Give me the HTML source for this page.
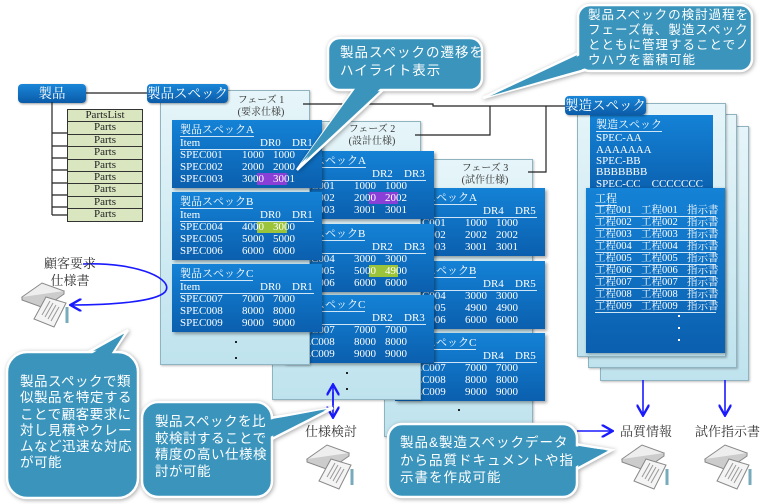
<!DOCTYPE html>
<html><head><meta charset="utf-8">
<style>
*{margin:0;padding:0;box-sizing:border-box}
body{width:768px;height:504px;background:#fff;position:relative;overflow:hidden;font-family:"Liberation Serif","Noto Serif CJK SC",serif;}
.a{position:absolute}
.panel{position:absolute;background:linear-gradient(#e6f5f9,#bfe3ee);border:1px solid #8fb3bf;box-shadow:1px 1px 2px rgba(0,0,0,.25)}
.card{position:absolute;width:150px;height:68px;background:linear-gradient(#1482d6,#0b5fae);box-shadow:2px 2px 3px rgba(0,0,0,.35);color:#fff;font-size:11px;line-height:12px;overflow:hidden}
.card div{position:absolute;white-space:nowrap}
.lbl{position:absolute;background:linear-gradient(#1a86d8,#0b5ba8);color:#fff;font-size:13.5px;border-radius:4px;text-align:center;line-height:19px;box-shadow:1px 1px 2px rgba(0,0,0,.4);white-space:nowrap;overflow:hidden}
.ph{position:absolute;font-size:10px;line-height:12px;text-align:center;color:#333}
.ct{position:absolute;color:#fff;font-size:13.5px;letter-spacing:1px;font-family:"Liberation Sans","Noto Sans CJK JP",sans-serif;white-space:nowrap}
.dot{position:absolute;width:2px;height:2px;background:#222}
.wd{position:absolute;width:2px;height:2px;background:#fff}
.hl{position:absolute;height:12px}
.m div{position:absolute;white-space:nowrap;color:#fff;font-size:11px;line-height:12px}
.u{border-bottom:1px solid #cfe6f7}
.r{position:absolute;left:9px;width:121px;height:12px;border-bottom:1px solid #cfe6f7}
.r span{position:absolute;top:0;font-size:10.5px;line-height:11px;white-space:nowrap}
</style></head><body>

<!-- phase 3 -->
<div class="panel" style="left:384px;top:159px;width:149px;height:278px"></div>
<div class="ph" style="left:440px;top:163px;width:90px">フェーズ 3<br>(試作仕様)</div>

<div class="card" style="left:395px;top:188px"><div class="u" style="left:8px;top:4px">製品スペックA</div><div class="u" style="left:8px;top:17px;width:134px">Item</div><div style="left:88px;top:17px">DR4</div><div style="left:120px;top:17px">DR5</div>
<div style="left:8px;top:29px">SPEC001</div><div style="left:70px;top:29px">1000</div><div style="left:101px;top:29px">1000</div>
<div style="left:8px;top:41px">SPEC002</div><div style="left:70px;top:41px">2002</div><div style="left:101px;top:41px">2002</div>
<div style="left:8px;top:53px">SPEC003</div><div style="left:70px;top:53px">3001</div><div style="left:101px;top:53px">3001</div></div>
<div class="card" style="left:395px;top:261px"><div class="u" style="left:8px;top:4px">製品スペックB</div><div class="u" style="left:8px;top:17px;width:134px">Item</div><div style="left:88px;top:17px">DR4</div><div style="left:120px;top:17px">DR5</div>
<div style="left:8px;top:29px">SPEC004</div><div style="left:70px;top:29px">3000</div><div style="left:101px;top:29px">3000</div>
<div style="left:8px;top:41px">SPEC005</div><div style="left:70px;top:41px">4900</div><div style="left:101px;top:41px">4900</div>
<div style="left:8px;top:53px">SPEC006</div><div style="left:70px;top:53px">6000</div><div style="left:101px;top:53px">6000</div></div>
<div class="card" style="left:395px;top:333px"><div class="u" style="left:8px;top:4px">製品スペックC</div><div class="u" style="left:8px;top:17px;width:134px">Item</div><div style="left:88px;top:17px">DR4</div><div style="left:120px;top:17px">DR5</div>
<div style="left:8px;top:29px">SPEC007</div><div style="left:70px;top:29px">7000</div><div style="left:101px;top:29px">7000</div>
<div style="left:8px;top:41px">SPEC008</div><div style="left:70px;top:41px">8000</div><div style="left:101px;top:41px">8000</div>
<div style="left:8px;top:53px">SPEC009</div><div style="left:70px;top:53px">9000</div><div style="left:101px;top:53px">9000</div></div>
<div class="dot" style="left:458px;top:409px"></div>

<!-- phase 2 -->
<div class="panel" style="left:272px;top:121px;width:149px;height:279px"></div>
<div class="ph" style="left:327px;top:124px;width:90px">フェーズ 2<br>(設計仕様)</div>
<div class="card" style="left:284px;top:151px"><div class="hl" style="left:85px;top:41px;width:29px;background:#8a3fd6"></div><div class="u" style="left:8px;top:4px">製品スペックA</div><div class="u" style="left:8px;top:17px;width:134px">Item</div><div style="left:88px;top:17px">DR2</div><div style="left:120px;top:17px">DR3</div>
<div style="left:8px;top:29px">SPEC001</div><div style="left:70px;top:29px">1000</div><div style="left:101px;top:29px">1000</div>
<div style="left:8px;top:41px">SPEC002</div><div style="left:70px;top:41px">2000</div><div style="left:101px;top:41px">2002</div>
<div style="left:8px;top:53px">SPEC003</div><div style="left:70px;top:53px">3001</div><div style="left:101px;top:53px">3001</div></div>
<div class="card" style="left:284px;top:224px"><div class="hl" style="left:85px;top:41px;width:29px;background:#9cc43a"></div><div class="u" style="left:8px;top:4px">製品スペックB</div><div class="u" style="left:8px;top:17px;width:134px">Item</div><div style="left:88px;top:17px">DR2</div><div style="left:120px;top:17px">DR3</div>
<div style="left:8px;top:29px">SPEC004</div><div style="left:70px;top:29px">3000</div><div style="left:101px;top:29px">3000</div>
<div style="left:8px;top:41px">SPEC005</div><div style="left:70px;top:41px">5000</div><div style="left:101px;top:41px">4900</div>
<div style="left:8px;top:53px">SPEC006</div><div style="left:70px;top:53px">6000</div><div style="left:101px;top:53px">6000</div></div>
<div class="card" style="left:284px;top:295px"><div class="u" style="left:8px;top:4px">製品スペックC</div><div class="u" style="left:8px;top:17px;width:134px">Item</div><div style="left:88px;top:17px">DR2</div><div style="left:120px;top:17px">DR3</div>
<div style="left:8px;top:29px">SPEC007</div><div style="left:70px;top:29px">7000</div><div style="left:101px;top:29px">7000</div>
<div style="left:8px;top:41px">SPEC008</div><div style="left:70px;top:41px">8000</div><div style="left:101px;top:41px">8000</div>
<div style="left:8px;top:53px">SPEC009</div><div style="left:70px;top:53px">9000</div><div style="left:101px;top:53px">9000</div></div>
<div class="dot" style="left:346px;top:372px"></div><div class="dot" style="left:346px;top:388px"></div>

<!-- phase 1 -->
<div class="panel" style="left:160px;top:90px;width:150px;height:275px"></div>
<div class="ph" style="left:216px;top:95px;width:90px">フェーズ 1<br>(要求仕様)</div>
<div class="card" style="left:172px;top:120px"><div class="hl" style="left:85px;top:53px;width:30px;background:#8a3fd6"></div><div class="u" style="left:8px;top:4px">製品スペックA</div><div class="u" style="left:8px;top:17px;width:134px">Item</div><div style="left:88px;top:17px">DR0</div><div style="left:120px;top:17px">DR1</div>
<div style="left:8px;top:29px">SPEC001</div><div style="left:70px;top:29px">1000</div><div style="left:101px;top:29px">1000</div>
<div style="left:8px;top:41px">SPEC002</div><div style="left:70px;top:41px">2000</div><div style="left:101px;top:41px">2000</div>
<div style="left:8px;top:53px">SPEC003</div><div style="left:70px;top:53px">3000</div><div style="left:101px;top:53px">3001</div></div>
<div class="card" style="left:172px;top:192px"><div class="hl" style="left:85px;top:29px;width:30px;background:#9cc43a"></div><div class="u" style="left:8px;top:4px">製品スペックB</div><div class="u" style="left:8px;top:17px;width:134px">Item</div><div style="left:88px;top:17px">DR0</div><div style="left:120px;top:17px">DR1</div>
<div style="left:8px;top:29px">SPEC004</div><div style="left:70px;top:29px">4000</div><div style="left:101px;top:29px">3000</div>
<div style="left:8px;top:41px">SPEC005</div><div style="left:70px;top:41px">5000</div><div style="left:101px;top:41px">5000</div>
<div style="left:8px;top:53px">SPEC006</div><div style="left:70px;top:53px">6000</div><div style="left:101px;top:53px">6000</div></div>
<div class="card" style="left:172px;top:264px"><div class="u" style="left:8px;top:4px">製品スペックC</div><div class="u" style="left:8px;top:17px;width:134px">Item</div><div style="left:88px;top:17px">DR0</div><div style="left:120px;top:17px">DR1</div>
<div style="left:8px;top:29px">SPEC007</div><div style="left:70px;top:29px">7000</div><div style="left:101px;top:29px">7000</div>
<div style="left:8px;top:41px">SPEC008</div><div style="left:70px;top:41px">8000</div><div style="left:101px;top:41px">8000</div>
<div style="left:8px;top:53px">SPEC009</div><div style="left:70px;top:53px">9000</div><div style="left:101px;top:53px">9000</div></div>
<div class="dot" style="left:235px;top:341px"></div><div class="dot" style="left:235px;top:357px"></div>

<!-- manufacturing -->
<div class="panel" style="left:600px;top:126px;width:149px;height:255px"></div>
<div class="panel" style="left:588px;top:114px;width:149px;height:254px"></div>
<div class="panel" style="left:577px;top:103px;width:149px;height:254px"></div>
<div class="a m" style="left:590px;top:115px;width:123px;height:80px;background:linear-gradient(#1482d6,#0b5fae)">
<div class="u" style="left:6px;top:4px">製造スペック</div>
<div style="left:6px;top:17px">SPEC-AA</div><div style="left:6px;top:29px">AAAAAAA</div><div style="left:6px;top:40px">SPEC-BB</div><div style="left:6px;top:51px">BBBBBBB</div><div style="left:6px;top:63px">SPEC-CC&nbsp;&nbsp;&nbsp;&nbsp;CCCCCCC</div></div>
<div class="a m" style="left:586px;top:188px;width:139px;height:165px;background:linear-gradient(#1482d6,#0b5fae);box-shadow:1px 1px 3px rgba(0,0,0,.35)">
<div class="u" style="left:9px;top:5px">工程</div>
<div class="r" style="top:17px"><span style="left:0">工程001</span><span style="left:46px">工程001</span><span style="left:92px">指示書</span></div>
<div class="r" style="top:29px"><span style="left:0">工程002</span><span style="left:46px">工程002</span><span style="left:92px">指示書</span></div>
<div class="r" style="top:41px"><span style="left:0">工程003</span><span style="left:46px">工程003</span><span style="left:92px">指示書</span></div>
<div class="r" style="top:53px"><span style="left:0">工程004</span><span style="left:46px">工程004</span><span style="left:92px">指示書</span></div>
<div class="r" style="top:65px"><span style="left:0">工程005</span><span style="left:46px">工程005</span><span style="left:92px">指示書</span></div>
<div class="r" style="top:77px"><span style="left:0">工程006</span><span style="left:46px">工程006</span><span style="left:92px">指示書</span></div>
<div class="r" style="top:89px"><span style="left:0">工程007</span><span style="left:46px">工程007</span><span style="left:92px">指示書</span></div>
<div class="r" style="top:101px"><span style="left:0">工程008</span><span style="left:46px">工程008</span><span style="left:92px">指示書</span></div>
<div class="r" style="top:113px"><span style="left:0">工程009</span><span style="left:46px">工程009</span><span style="left:92px">指示書</span></div>
</div>
<div class="wd" style="left:678px;top:315px"></div><div class="wd" style="left:678px;top:327px"></div><div class="wd" style="left:678px;top:339px"></div>

<!-- labels -->
<div class="lbl" style="left:18px;top:84px;width:68px">製品</div>
<div class="lbl" style="left:147px;top:84px;width:81px">製品スペック</div>
<div class="lbl" style="left:565px;top:96px;width:81px">製造スペック</div>

<!-- parts -->
<div class="a" style="left:67px;top:109px;width:76px;background:#d9e6c0;border:1px solid #333;font-size:11px;line-height:11.4px;text-align:center;color:#222">
<div style="border-bottom:1px solid #333">PartsList</div><div style="border-bottom:1px solid #333">Parts</div><div style="border-bottom:1px solid #333">Parts</div><div style="border-bottom:1px solid #333">Parts</div><div style="border-bottom:1px solid #333">Parts</div><div style="border-bottom:1px solid #333">Parts</div><div style="border-bottom:1px solid #333">Parts</div><div style="border-bottom:1px solid #333">Parts</div><div>Parts</div></div>

<svg class="a" style="left:0;top:0" width="768" height="504">
<defs><marker id="ah" markerWidth="8" markerHeight="8" refX="6" refY="4" orient="auto"><path d="M0,0 L7,4 L0,8" fill="none" stroke="#1a1aff" stroke-width="1.5"/></marker></defs>
<g stroke="#222" stroke-width="1.2" fill="none">
<path d="M86,93 H147"/>
<path d="M52,102 V215 M52,133 H67 M52,146 H67 M52,158 H67 M52,170 H67 M52,183 H67 M52,195 H67 M52,207 H67 M52,215 H67"/>
<path d="M303,104 H433 V106 H565"/>
<path d="M490,106 V135 H415"/>
<path d="M546,106 V172 H528"/>
</g>
<g stroke="#1a1aff" stroke-width="1.6" fill="none">
<path d="M83,264 C140,262 175,280 165,292 C155,302 110,305 72,305" marker-end="url(#ah)"/>
<path d="M333,392 V416" marker-end="url(#ah)"/>
<path d="M333,405 V386" marker-end="url(#ah)"/>
<path d="M643,380 V414" marker-end="url(#ah)"/>
<path d="M725,380 V414" marker-end="url(#ah)"/>
<path d="M577,431 H611" marker-end="url(#ah)"/>
</g>
<g fill="#3a94bc" stroke="#fff" stroke-width="2.5" style="filter:drop-shadow(1px 1px 2px rgba(0,0,0,.35))">
<path d="M355,88 L297,170 L385,88 Z"/>
<rect x="328" y="38" width="154" height="52" rx="12"/>
<path d="M585,50 L483,98 L600,66 Z"/>
<rect x="578" y="5" width="174" height="66" rx="12"/>
<path d="M85,354 L128,330 L112,354 Z"/>
<rect x="7" y="352" width="131" height="146" rx="20"/>
<path d="M270,418 L333,408 L270,440 Z"/>
<rect x="142" y="402" width="130" height="95" rx="16"/>
<path d="M575,444 L612,450 L575,470 Z"/>
<rect x="388" y="424" width="189" height="73" rx="14"/>
</g>
<g fill="#3a94bc">
<path d="M357,86 L301,163 L383,86 Z"/>
<path d="M587,52 L490,96 L600,64 Z"/>
<path d="M88,356 L124,334 L110,356 Z"/>
<path d="M268,420 L327,409 L268,438 Z"/>
<path d="M573,446 L606,450 L573,468 Z"/>
</g>
<g id="doc">
<g transform="translate(22,283)">
<path d="M0,14 L20,0 L42,8 L22,22 Z" fill="#eee" stroke="#888"/>
<path d="M0,14 L0,17 L22,25 L42,11 L42,8" fill="#ccc" stroke="#888"/>
<path d="M12,36 L24,14 L44,20 L32,44 Z" fill="#f4f4f4" stroke="#888"/>
<path d="M20,32 L28,18 M23,34 L31,20 M26,36 L34,22 M29,38 L37,24" stroke="#999" stroke-width="1"/>
<path d="M45,24 L45,40" stroke="#7ab" stroke-width="3"/>
</g>
</g>
<use href="#doc" x="285" y="162"/>
<use href="#doc" x="600" y="162"/>
<use href="#doc" x="683" y="162"/>
</svg>

<div class="a" style="left:40px;top:255px;width:60px;text-align:center;font-size:13px;line-height:17px;color:#333">顧客要求<br>仕様書</div>
<div class="a" style="left:305px;top:421px;font-size:13px;color:#333">仕様検討</div>
<div class="a" style="left:620px;top:421px;font-size:13px;color:#333">品質情報</div>
<div class="a" style="left:695px;top:421px;font-size:13px;color:#333">試作指示書</div>

<div class="ct" style="left:340px;top:44px;line-height:18px">製品スペックの遷移を<br>ハイライト表示</div>
<div class="ct" style="left:588px;top:8px;line-height:15px;font-size:12.5px">製品スペックの検討過程を<br>フェーズ毎、製造スペック<br>とともに管理することでノ<br>ウハウを蓄積可能</div>
<div class="ct" style="left:20px;top:374px;line-height:16.3px;letter-spacing:0.5px">製品スペックで類<br>似製品を特定する<br>ことで顧客要求に<br>対し見積やクレー<br>ムなど迅速な対応<br>が可能</div>
<div class="ct" style="left:155px;top:414px;line-height:16.7px;letter-spacing:0.5px">製品スペックを比<br>較検討することで<br>精度の高い仕様検<br>討が可能</div>
<div class="ct" style="left:400px;top:434px;line-height:17.5px">製品&amp;製造スペックデータ<br>から品質ドキュメントや指<br>示書を作成可能</div>
</body></html>
